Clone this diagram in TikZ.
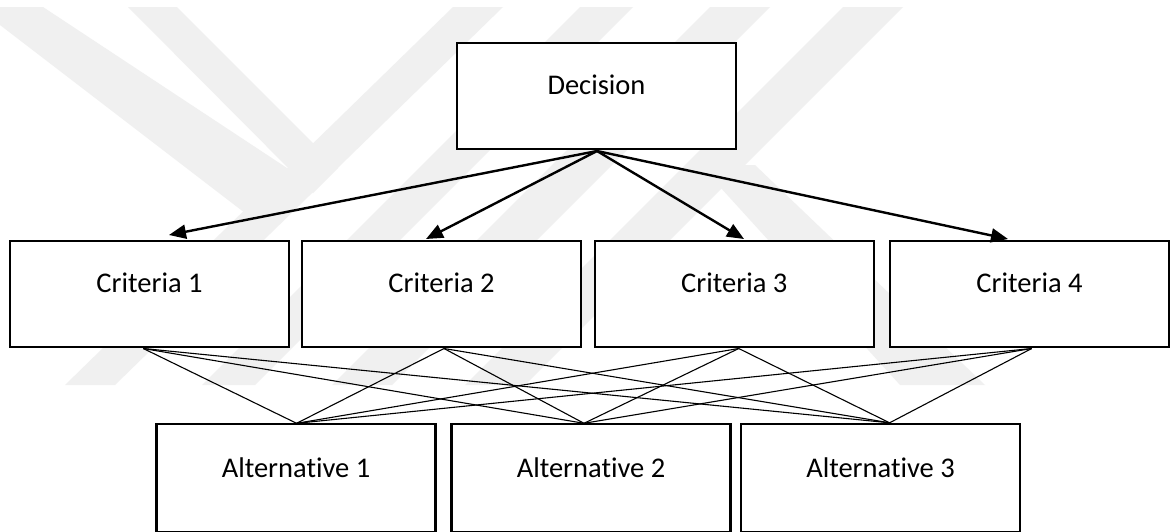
\documentclass[tikz,border=0pt]{standalone}
\usepackage{fontspec}
\setmainfont{Carlito}[Ligatures={NoCommon}]
\usetikzlibrary{arrows.meta}
\definecolor{wm}{RGB}{240,240,240}
\begin{document}
\begin{tikzpicture}[x=1pt,y=-1pt,
  box/.style={draw=black,line width=2.2pt,fill=white,rectangle,inner sep=0pt,minimum width=279pt,minimum height=106pt},
  altbox/.style={box,minimum height=108pt},
  lbl/.style={font=\fontsize{28.5}{34}\selectfont,inner sep=0pt,anchor=base},
  arr/.style={line width=2.4pt,-{Triangle[length=17pt,width=14pt]}},
  thinline/.style={line width=1.1pt},
  wmark/.style={fill=wm,draw=none}]
\useasboundingbox (0,0) rectangle (1170,531);
\fill[white] (0,0) rectangle (1170,531);
% faint watermark
\fill[wmark] (0,7) -- (43,7) -- (290,170) -- (245,213) -- (0,25) -- cycle;
\fill[wmark] (128,7) -- (177,7) -- (338,168) -- (313,193) -- cycle;
\fill[wmark] (453,7) -- (503,7) -- (115,385) -- (65,385) -- cycle;
\fill[wmark] (580,7) -- (633,7) -- (255,385) -- (202,385) -- cycle;
\fill[wmark] (710,7) -- (770,7) -- (392,385) -- (332,385) -- cycle;
\fill[wmark] (843,7) -- (903,7) -- (525,385) -- (465,385) -- cycle;
\fill[wmark] (700,165) -- (755,165) -- (985,385) -- (900,385) -- cycle;
% boxes
\node[box] (dec) at (596.5,96) {};
\node[box] (c1) at (149.5,294) {};
\node[box] (c2) at (441.5,294) {};
\node[box] (c3) at (734.25,294) {};
\node[box] (c4) at (1029.5,294) {};
\node[altbox] (a1) at (296,478) {};
\node[altbox] (a2) at (591,478) {};
\node[altbox] (a3) at (880.5,478) {};
% texts
\node[lbl] (tdec) at ([yshift=2pt]dec.center) {Decision};
\node[lbl] (tc1) at ([yshift=1.3pt]c1.center) {Criteria 1};
\node[lbl] (tc2) at ([yshift=1.3pt]c2.center) {Criteria 2};
\node[lbl] (tc3) at ([yshift=1.3pt]c3.center) {Criteria 3};
\node[lbl] (tc4) at ([yshift=1.3pt]c4.center) {Criteria 4};
\node[lbl] (ta1) at ([yshift=0.7pt]a1.center) {Alternative 1};
\node[lbl] (ta2) at ([yshift=0.7pt]a2.center) {Alternative 2};
\node[lbl] (ta3) at ([yshift=0.7pt]a3.center) {Alternative 3};
% connection points
\coordinate (ds) at (597,151);
\coordinate (p1) at (169,235);
\coordinate (p2) at (426,239);
\coordinate (p3) at (744,239);
\coordinate (p4) at (1008,239);
\coordinate (c1b) at (143.3,348.5);
\coordinate (c2b) at (444,348.5);
\coordinate (c3b) at (738.7,348.5);
\coordinate (c4b) at (1031.7,348.5);
\coordinate (a1t) at (296.6,423.3);
\coordinate (a2t) at (584,423.3);
\coordinate (a3t) at (889.6,422.8);
% arrows
\foreach \p in {p1,p2,p3,p4} \draw[arr] (ds) -- (\p);
% criteria to alternatives
\foreach \c in {c1b,c2b,c3b,c4b}
  \foreach \a in {a1t,a2t,a3t}
    \draw[thinline] (\c) -- (\a);
\end{tikzpicture}
\end{document}
